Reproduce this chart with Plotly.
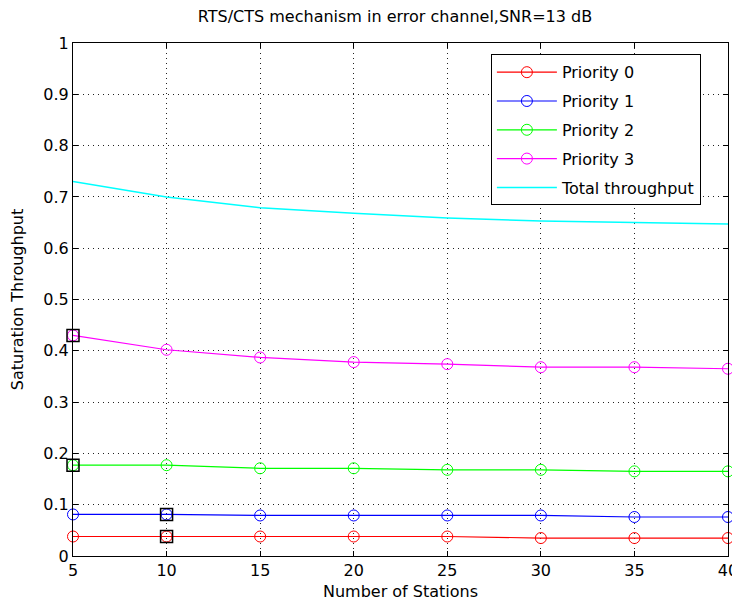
import plotly.graph_objects as go

stations = [5, 10, 15, 20, 25, 30, 35, 40]
priority0 = [0.038, 0.038, 0.038, 0.038, 0.038, 0.035, 0.035, 0.035]
priority1 = [0.081, 0.081, 0.079, 0.079, 0.079, 0.079, 0.076, 0.076]
priority2 = [0.177, 0.177, 0.171, 0.171, 0.168, 0.168, 0.165, 0.165]
priority3 = [0.430, 0.402, 0.387, 0.378, 0.374, 0.368, 0.368, 0.365]
total = [0.730, 0.700, 0.679, 0.668, 0.659, 0.653, 0.650, 0.647]

series_names = ["Priority 0", "Priority 1", "Priority 2", "Priority 3"]
series_values = [priority0, priority1, priority2, priority3]
series_colors = ["#ff0000", "#0000ff", "#00ff00", "#ff00ff"]

# data-tip markers (series index, station index)
tips = [(3, 0), (2, 0), (1, 1), (0, 1)]

FONT = "DejaVu Sans"

fig = go.Figure()
for i, (name, vals, col) in enumerate(zip(series_names, series_values, series_colors)):
    fig.add_trace(go.Scatter(
        x=stations, y=vals, name=name, mode="lines+markers",
        line=dict(color=col, width=1.2),
        marker=dict(symbol="circle-open", size=11, color=col, line=dict(width=1, color=col)),
        legendgroup=f"g{i}", cliponaxis=False,
    ))
fig.add_trace(go.Scatter(
    x=stations, y=total, name="Total throughput", mode="lines",
    line=dict(color="#00ffff", width=1.5), legendgroup="g4", cliponaxis=False,
))
fig.add_trace(go.Scatter(
    x=[stations[j] for _, j in tips],
    y=[series_values[i][j] for i, j in tips],
    mode="markers", showlegend=False, hoverinfo="skip", cliponaxis=False,
    marker=dict(symbol="square-open", size=12, color="black", line=dict(width=1.5, color="black")),
))

axis_common = dict(
    showline=True, linecolor="black", linewidth=1, mirror="ticks",
    ticks="inside", ticklen=5, tickcolor="black", tickwidth=1,
    showgrid=True, gridcolor="#222222", griddash="1px,4px", gridwidth=1,
    zeroline=False, automargin=False,
    tickfont=dict(family=FONT, size=16, color="black"),
)

fig.update_layout(
    width=736, height=594,
    margin=dict(l=65, r=16, t=35, b=46),
    paper_bgcolor="white", plot_bgcolor="white",
    font=dict(family=FONT, size=16, color="black"),
    title=dict(text="RTS/CTS mechanism in error channel,SNR=13 dB",
               x=0.5258, xanchor="center", y=0.995, yanchor="top",
               font=dict(family=FONT, size=16, color="black"), automargin=False),
    xaxis=dict(axis_common, range=[5, 40], tickvals=stations,
               title=dict(text="Number of Stations", standoff=6,
                          font=dict(family=FONT, size=16))),
    yaxis=dict(axis_common, range=[0, 1], dtick=0.1, tickformat="~g",
               title=dict(text="Saturation Throughput", standoff=16,
                          font=dict(family=FONT, size=16))),
    legend=dict(x=0.638, y=0.978, xanchor="left", yanchor="top",
                bordercolor="black", borderwidth=1, bgcolor="white",
                font=dict(family=FONT, size=16, color="black"),
                tracegroupgap=5, traceorder="grouped", itemwidth=60),
    showlegend=True,
)

fig.write_html("out.html")
